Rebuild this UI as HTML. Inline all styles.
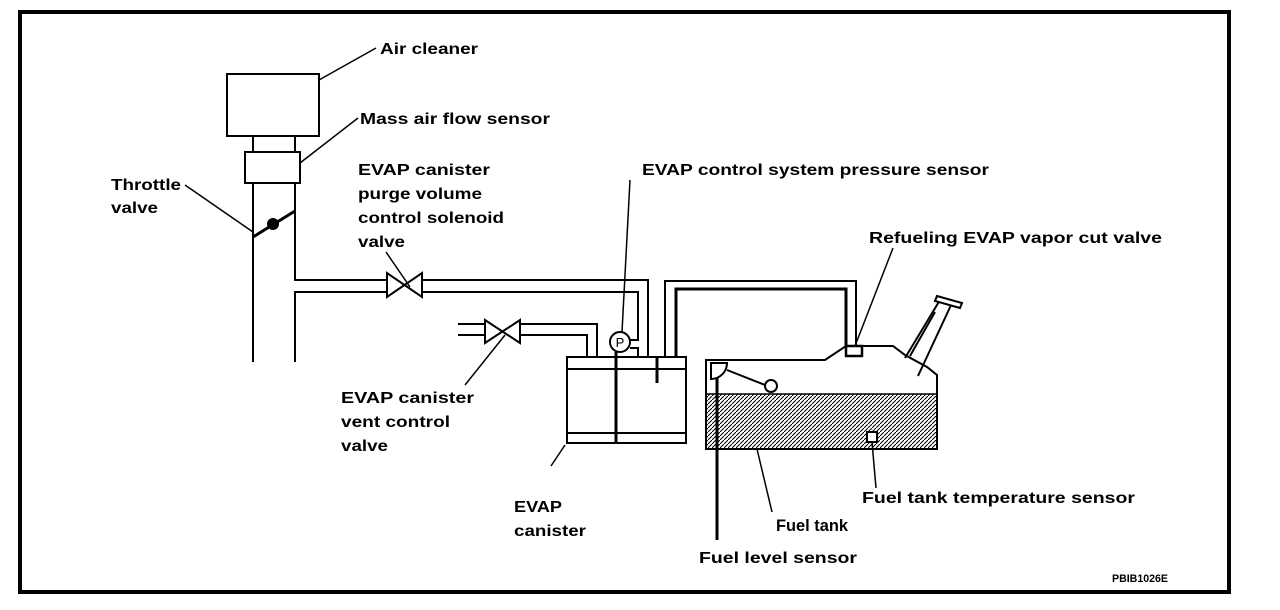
<!DOCTYPE html>
<html><head><meta charset="utf-8"><style>
html,body{margin:0;padding:0;background:#fff;}
svg{display:block;}
text{font-family:"Liberation Sans",Arial,sans-serif;font-size:16px;font-weight:bold;fill:#000;}
</style></head><body>
<svg width="1280" height="610" viewBox="0 0 1280 610" xmlns="http://www.w3.org/2000/svg">
<defs>
<pattern id="h" patternUnits="userSpaceOnUse" width="4" height="4">
<path d="M-1,5 L5,-1" stroke="#000" stroke-width="1"/>
</pattern>
</defs>
<rect x="20" y="12" width="1209" height="580" fill="none" stroke="#000" stroke-width="4"/>
<g fill="none" stroke="#000" stroke-width="2">
<rect x="227" y="74" width="92" height="62"/>
<line x1="253" y1="136" x2="253" y2="152"/><line x1="295" y1="136" x2="295" y2="152"/>
<rect x="245" y="152" width="55" height="31"/>
<line x1="253" y1="183" x2="253" y2="362"/>
<polyline points="295,183 295,280 387,280"/>
<polyline points="295,362 295,292 387,292"/>
<line x1="253" y1="237" x2="295" y2="211" stroke-width="3"/>
<polyline points="422,280 648,280 648,357"/>
<polyline points="422,292 638,292 638,340 630,340"/>
<polyline points="630,348 638,348 638,357"/>
<polygon points="387,273 387,297 422,273 422,297"/>
<polyline points="458,324 485,324"/><polyline points="458,335 485,335"/>
<polygon points="485,320 485,343 520,320 520,343"/>
<polyline points="520,324 597,324 597,357"/>
<polyline points="520,335 587,335 587,357"/>
<rect x="567" y="357" width="119" height="86"/>
<line x1="567" y1="369" x2="686" y2="369"/>
<line x1="567" y1="433" x2="686" y2="433"/>
<line x1="616" y1="352" x2="616" y2="443" stroke-width="3"/>
<line x1="657" y1="357" x2="657" y2="383" stroke-width="3"/>
<circle cx="620" cy="342" r="10" fill="#fff"/>
<polyline points="665,357 665,281 856,281 856,346"/>
<polyline points="676,357 676,289 846,289 846,346" stroke-width="3"/>
<polygon points="706,360 825,360 846,346 893,346 905,355 927,367 937,375 937,449 706,449" fill="#fff"/>
<rect x="706" y="394" width="231" height="55" fill="url(#h)" stroke="none"/>
<line x1="706" y1="394" x2="937" y2="394" stroke-width="1.5"/>
<rect x="846" y="346" width="16" height="10" fill="#fff" stroke-width="2.5"/>
<rect x="867" y="432" width="10" height="10" fill="#fff"/>
<path d="M711,363 L727,363 A16,16 0 0 1 711,379 Z" fill="#fff"/>
<line x1="727" y1="370" x2="765" y2="385"/>
<circle cx="771" cy="386" r="6" fill="#fff"/>
<line x1="717" y1="378" x2="717" y2="540" stroke-width="3"/>
<line x1="905" y1="358" x2="940" y2="300"/>
<line x1="918" y1="376" x2="952" y2="303"/>
<line x1="910" y1="356" x2="935" y2="312"/>
<polygon points="937,296 962,303 960,308 935,301" fill="#fff"/>
<g stroke-width="1.5">
<line x1="319" y1="80" x2="376" y2="48"/>
<line x1="300" y1="163" x2="358" y2="118"/>
<line x1="185" y1="185" x2="253" y2="232"/>
<line x1="386" y1="252" x2="410" y2="287"/>
<line x1="630" y1="180" x2="622" y2="332"/>
<line x1="893" y1="248" x2="855" y2="346"/>
<line x1="465" y1="385" x2="505" y2="335"/>
<line x1="565" y1="445" x2="551" y2="466"/>
<line x1="757" y1="449" x2="772" y2="512"/>
<line x1="872" y1="442" x2="876" y2="488"/>
</g>
</g>
<circle cx="273" cy="224" r="6" fill="#000"/>
<text x="380" y="54" textLength="98" lengthAdjust="spacingAndGlyphs">Air cleaner</text>
<text x="360" y="124" textLength="190" lengthAdjust="spacingAndGlyphs">Mass air flow sensor</text>
<text x="111" y="190" textLength="70" lengthAdjust="spacingAndGlyphs">Throttle</text>
<text x="111" y="213" textLength="47" lengthAdjust="spacingAndGlyphs">valve</text>
<text x="358" y="175" textLength="132" lengthAdjust="spacingAndGlyphs">EVAP canister</text>
<text x="358" y="199" textLength="124" lengthAdjust="spacingAndGlyphs">purge volume</text>
<text x="358" y="223" textLength="146" lengthAdjust="spacingAndGlyphs">control solenoid</text>
<text x="358" y="247" textLength="47" lengthAdjust="spacingAndGlyphs">valve</text>
<text x="642" y="175" textLength="347" lengthAdjust="spacingAndGlyphs">EVAP control system pressure sensor</text>
<text x="869" y="243" textLength="293" lengthAdjust="spacingAndGlyphs">Refueling EVAP vapor cut valve</text>
<text x="341" y="403" textLength="133" lengthAdjust="spacingAndGlyphs">EVAP canister</text>
<text x="341" y="427" textLength="109" lengthAdjust="spacingAndGlyphs">vent control</text>
<text x="341" y="451" textLength="47" lengthAdjust="spacingAndGlyphs">valve</text>
<text x="514" y="512" textLength="48" lengthAdjust="spacingAndGlyphs">EVAP</text>
<text x="514" y="536" textLength="72" lengthAdjust="spacingAndGlyphs">canister</text>
<text x="776" y="531" style="font-size:17px" textLength="72" lengthAdjust="spacingAndGlyphs">Fuel tank</text>
<text x="699" y="563" textLength="158" lengthAdjust="spacingAndGlyphs">Fuel level sensor</text>
<text x="862" y="503" textLength="273" lengthAdjust="spacingAndGlyphs">Fuel tank temperature sensor</text>
<text x="620" y="347" style="font-size:13px;font-weight:normal" text-anchor="middle">P</text>
<text x="1112" y="582" style="font-size:11px" textLength="56" lengthAdjust="spacingAndGlyphs">PBIB1026E</text>
</svg>
</body></html>
